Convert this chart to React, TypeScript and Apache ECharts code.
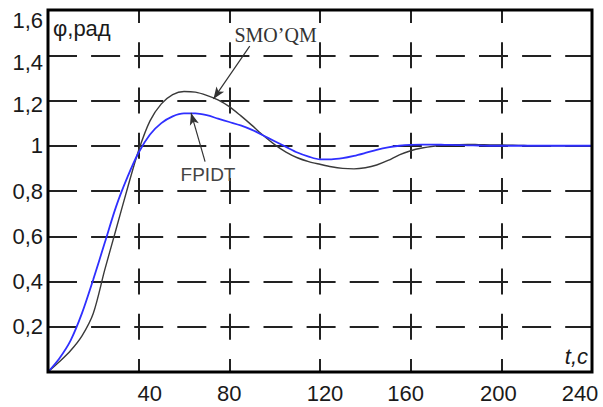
import React, { useEffect, useRef } from "react";
import * as echarts from "echarts";

// ---- data ----
const timeS = [
  0, 5, 10, 15, 20, 25, 30, 35, 40, 45, 50, 55, 60, 65, 70, 75, 80, 85, 90, 95,
  100, 105, 110, 115, 120, 125, 130, 135, 140, 145, 150, 155, 160, 165, 170,
  175, 180, 185, 190, 195, 200, 205, 210, 215, 220, 225, 230, 235, 240,
];

const smoqmValues = [
  0, 0.045, 0.095, 0.16, 0.26, 0.45, 0.63, 0.81, 0.98, 1.11, 1.185, 1.226,
  1.24, 1.237, 1.223, 1.203, 1.173, 1.133, 1.09, 1.045, 1.005, 0.972, 0.947,
  0.93, 0.918, 0.907, 0.9, 0.898, 0.903, 0.915, 0.935, 0.96, 0.978, 0.99,
  0.998, 1.003, 1.005, 1.006, 1.005, 1.004, 1.003, 1.002, 1.001, 1.0, 1.0,
  1.0, 1.0, 1.0, 1.0,
];

const fpidtValues = [
  0, 0.06, 0.14, 0.26, 0.41, 0.57, 0.73, 0.86, 0.97, 1.05, 1.1, 1.13, 1.143,
  1.143, 1.135, 1.12, 1.105, 1.09, 1.07, 1.045, 1.02, 0.995, 0.97, 0.952,
  0.94, 0.94, 0.945, 0.955, 0.968, 0.982, 0.993, 1.0, 1.004, 1.005, 1.005,
  1.004, 1.003, 1.002, 1.001, 1.0, 1.0, 1.0, 1.0, 1.0, 1.0, 1.0, 1.0, 1.0, 1.0,
];

const seriesNames = ["SMO\u2019QM", "FPIDT"];

const xTickValues = [40, 80, 120, 160, 200, 240];
const xTickLabels = ["40", "80", "120", "160", "200", "240"];
const yTickValues = [0.2, 0.4, 0.6, 0.8, 1, 1.2, 1.4, 1.6];
const yTickLabels = ["0,2", "0,4", "0,6", "0,8", "1", "1,2", "1,4", "1,6"];

const xAxisTitle = "t,c";
const yAxisTitle = "\u03c6,\u0440\u0430\u0434";

// annotation anchors (data space)
const smoqmArrow = [[89, 1.44], [73, 1.207]];
const smoqmLabelAt = [100.4, 1.489];
const fpidtArrow = [[69.3, 0.93], [63.1, 1.145]];
const fpidtLabelAt = [70.6, 0.872];

// ---- styling ----
const SANS = "'Liberation Sans', Arial, sans-serif";
const SERIF = "'Liberation Serif', 'Times New Roman', serif";
const TXT = "#1a1a1a";

const xShift = [11, 0, 5, -5, -3, -12];
const yShiftDown = [0, 0, 0, 0, 0, 4, 7, 10];

function pad(shift: number) {
  return shift >= 0 ? [0, 0, 0, 2 * shift] : [0, -2 * shift, 0, 0];
}

export default function App() {
  const ref = useRef<HTMLDivElement>(null);

  useEffect(() => {
    if (!ref.current) return;
    const chart = echarts.init(ref.current, undefined, { renderer: "svg" });

    const xRich: Record<string, any> = {};
    xTickValues.forEach((_, i) => {
      xRich["x" + i] = {
        fontFamily: SANS,
        fontSize: 22,
        color: TXT,
        padding: pad(xShift[i]),
      };
    });
    const yRich: Record<string, any> = {};
    yTickValues.forEach((_, i) => {
      yRich["y" + i] = {
        fontFamily: SANS,
        fontSize: 22,
        color: TXT,
        padding: [2 * yShiftDown[i], 0, 0, 0],
      };
    });

    const findIdx = (arr: number[], v: number) =>
      arr.findIndex((a) => Math.abs(a - v) < 1e-6);

    const option: any = {
      animation: false,
      backgroundColor: "#ffffff",
      grid: {
        left: 48,
        top: 10,
        right: 11,
        bottom: 35,
        show: true,
        borderColor: "#000",
        borderWidth: 3,
        backgroundColor: "transparent",
        z: 5,
      },
      xAxis: {
        type: "value",
        min: 0,
        max: 240,
        interval: 40,
        name: xAxisTitle,
        nameLocation: "end",
        nameGap: -4,
        nameTextStyle: {
          fontFamily: SANS,
          fontStyle: "italic",
          fontSize: 22,
          color: TXT,
          align: "right",
          verticalAlign: "bottom",
          padding: [0, 0, 5, 0],
        },
        axisLine: { show: false },
        axisTick: { show: false },
        axisLabel: {
          margin: 10,
          fontFamily: SANS,
          fontSize: 22,
          color: TXT,
          formatter: (v: number) => {
            const i = findIdx(xTickValues, v);
            return i < 0 ? "" : `{x${i}|${xTickLabels[i]}}`;
          },
          rich: xRich,
        },
        splitLine: {
          show: true,
          showMinLine: false,
          showMaxLine: false,
          lineStyle: {
            color: "#222",
            width: 2,
            type: [26, 19.25],
            dashOffset: 13,
          },
        },
      },
      yAxis: {
        type: "value",
        min: 0,
        max: 1.6,
        interval: 0.2,
        name: yAxisTitle,
        nameLocation: "end",
        nameGap: -7,
        nameTextStyle: {
          fontFamily: SANS,
          fontSize: 22,
          color: TXT,
          align: "left",
          verticalAlign: "top",
          padding: [0, 0, 0, 5],
        },
        axisLine: { show: false },
        axisTick: { show: false },
        axisLabel: {
          margin: 5,
          fontFamily: SANS,
          fontSize: 22,
          color: TXT,
          formatter: (v: number) => {
            const i = findIdx(yTickValues, v);
            return i < 0 ? "" : `{y${i}|${yTickLabels[i]}}`;
          },
          rich: yRich,
        },
        splitLine: {
          show: true,
          showMinLine: false,
          showMaxLine: false,
          lineStyle: {
            color: "#222",
            width: 2,
            type: [29, 14.1],
            dashOffset: 0,
          },
        },
      },
      series: [
        {
          name: seriesNames[0],
          type: "line",
          data: timeS.map((t, i) => [t, smoqmValues[i]]),
          smooth: 0.3,
          showSymbol: false,
          symbol: "none",
          z: 3,
          lineStyle: { color: "#3a3a3a", width: 1.4 },
          markLine: {
            silent: true,
            symbol: ["none", "arrow"],
            symbolSize: [7, 12],
            lineStyle: { color: "#333", width: 1.2, type: "solid" },
            label: { show: false },
            data: [
              [
                { coord: smoqmArrow[0] },
                { coord: smoqmArrow[1] },
              ],
            ],
          },
          markPoint: {
            silent: true,
            symbol: "circle",
            symbolSize: 1,
            itemStyle: { color: "rgba(0,0,0,0)" },
            label: {
              show: true,
              position: "inside",
              formatter: seriesNames[0],
              fontFamily: SERIF,
              fontSize: 20,
              color: "#333",
            },
            data: [{ coord: smoqmLabelAt }],
          },
        },
        {
          name: seriesNames[1],
          type: "line",
          data: timeS.map((t, i) => [t, fpidtValues[i]]),
          smooth: 0.3,
          showSymbol: false,
          symbol: "none",
          z: 4,
          lineStyle: { color: "#2f2fff", width: 1.8 },
          markLine: {
            silent: true,
            symbol: ["none", "arrow"],
            symbolSize: [7, 12],
            lineStyle: { color: "#333", width: 1.2, type: "solid" },
            label: { show: false },
            data: [
              [
                { coord: fpidtArrow[0] },
                { coord: fpidtArrow[1] },
              ],
            ],
          },
          markPoint: {
            silent: true,
            symbol: "circle",
            symbolSize: 1,
            itemStyle: { color: "rgba(0,0,0,0)" },
            label: {
              show: true,
              position: "inside",
              formatter: seriesNames[1],
              fontFamily: SANS,
              fontSize: 19,
              color: "#444",
            },
            data: [{ coord: fpidtLabelAt }],
          },
        },
      ],
    };

    chart.setOption(option);
    return () => chart.dispose();
  }, []);

  return (
    <div
      ref={ref}
      style={{ position: "absolute", left: 0, top: 0, width: 603, height: 407 }}
    />
  );
}
